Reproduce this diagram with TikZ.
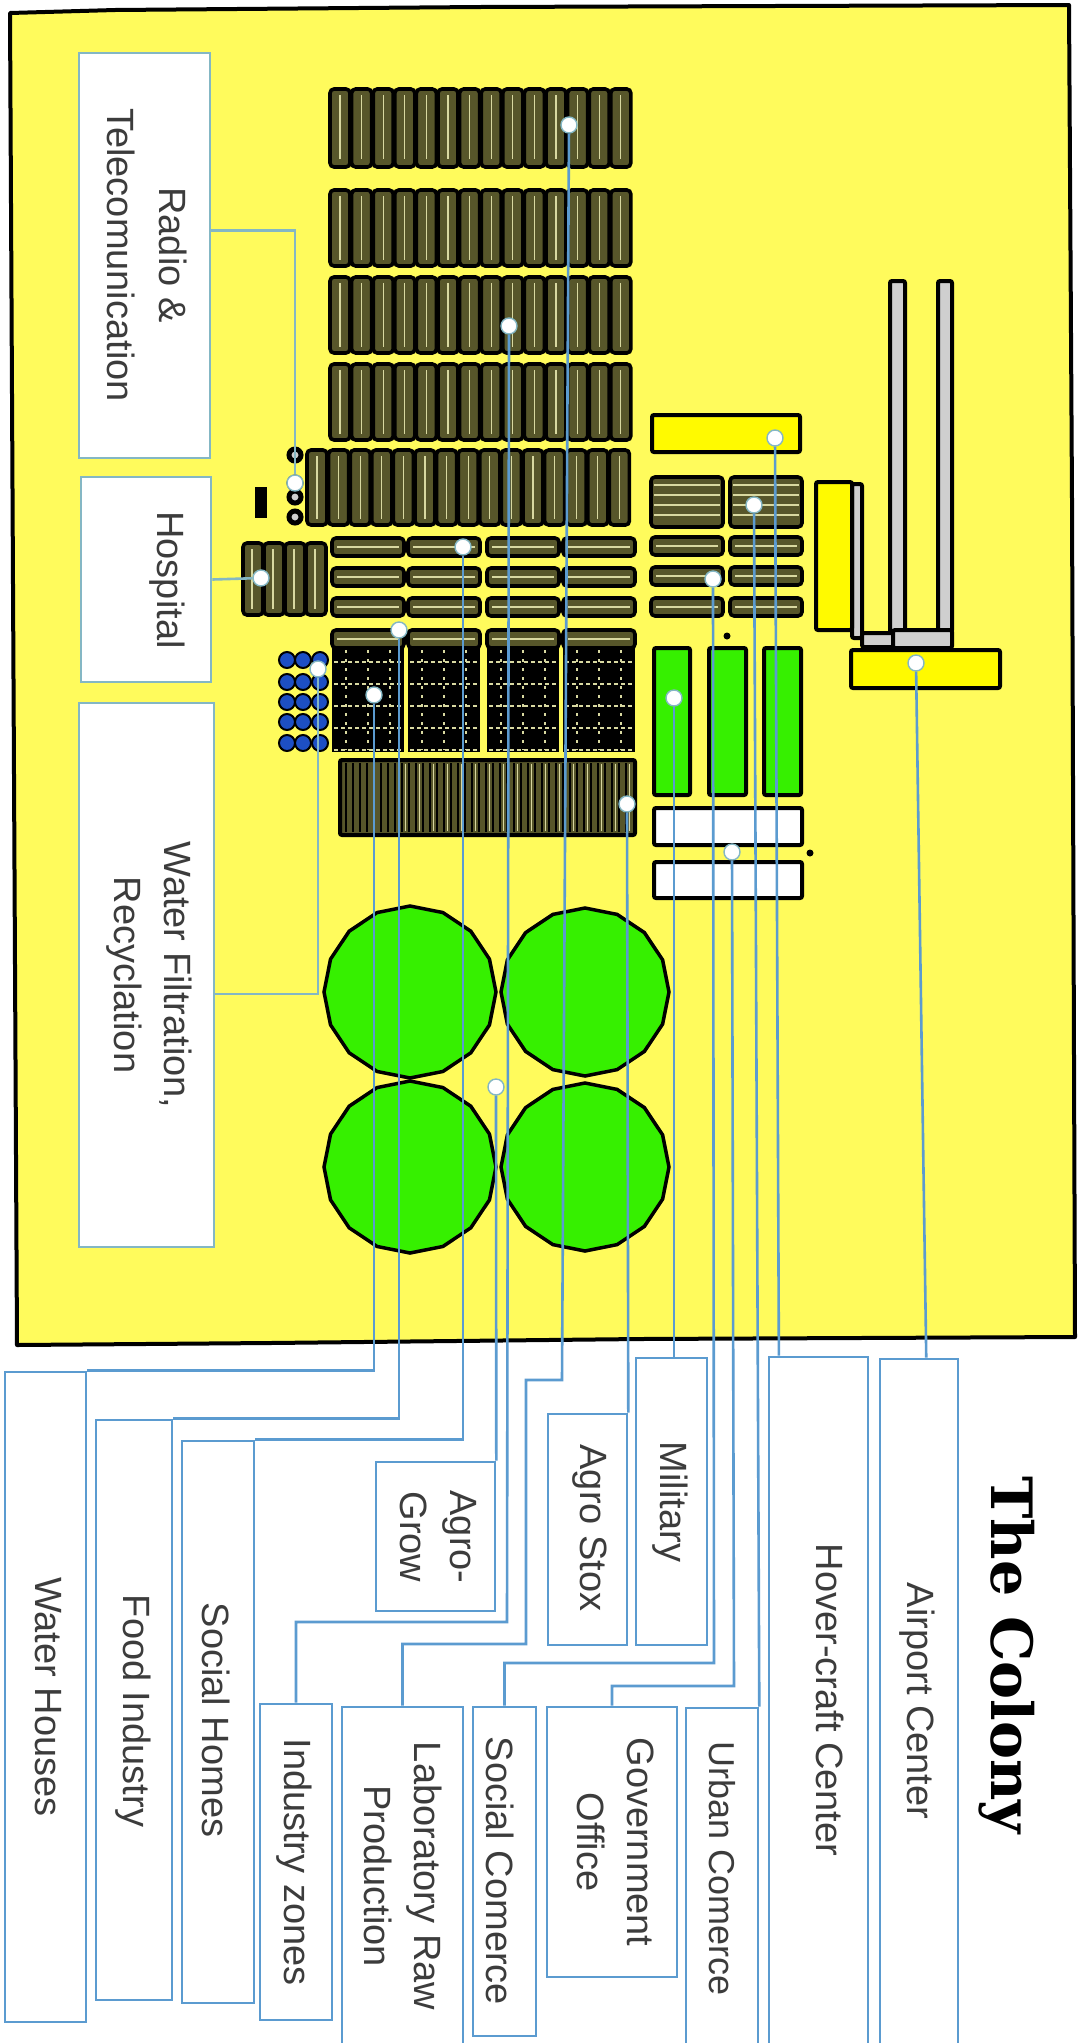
\documentclass[tikz,border=0pt]{standalone}
\usepackage{fontspec}
\setsansfont{Liberation Sans}
\newfontfamily\titlefont{DejaVu Serif}
\usetikzlibrary{shapes.geometric, calc}
\definecolor{ground}{HTML}{FFFB5C}
\definecolor{olivefill}{HTML}{57562A}
\definecolor{pale}{HTML}{D8D8A0}
\definecolor{lawn}{HTML}{36F000}
\definecolor{sun}{HTML}{FFFA00}
\definecolor{concrete}{HTML}{CFCFCF}
\definecolor{pool}{HTML}{1D4FC4}
\definecolor{wire}{HTML}{5B9BD0}
\definecolor{wirepale}{HTML}{84B7C4}
\definecolor{lettering}{HTML}{3C3C3C}
\tikzset{
  font=\sffamily,
  plot/.style={draw=black, line width=4pt, fill=ground, line join=round},
  %
  strip/.style={draw=black, line width=3.6pt, fill=olivefill, rounded corners=4pt},
  stripline/.style={draw=pale, line width=1.1pt},
  block/.style={draw=black, line width=4pt, rounded corners=2pt},
  tank/.style={draw=black, line width=3.5pt, fill=lawn, regular polygon,
    regular polygon sides=16, shape border rotate=11.25, minimum size=172pt,
    inner sep=0pt},
  %
  box/.style={draw=wire, line width=2.6pt, fill=white, inner sep=0pt},
  boxp/.style={box, draw=wirepale},
  link/.style={draw=wire, line width=2.6pt},
  linkp/.style={draw=wirepale, line width=2.6pt},
  dot/.style={circle, draw=wirepale, line width=1.4pt, fill=white, inner sep=0pt,
    minimum size=16pt},
  txt/.style={rotate=-90, text=lettering, align=center, inner sep=0pt,
    font=\sffamily\fontsize{38}{52}\selectfont},
}
\begin{document}
\begin{tikzpicture}[x=1pt, y=-1pt]
\useasboundingbox (0,0) rectangle (1078,2043);
\fill[white] (0,0) rectangle (1078,2043);

% ------------------------------------------------------------------ ground
\draw[plot] (10,13) -- (115,10) -- (480,7) -- (1069,5) -- (1072,500)
  -- (1075,1337) -- (640,1339) -- (270,1343) -- (17,1345) -- cycle;

% ---------------------------------------------------------- housing strips
\foreach \y in {89,190,277,364} {
  \foreach \i in {0,...,13} {
    \draw[strip] ({330+\i*21.6},\y) rectangle ++(20,{\y==89 ? 78 : 76});
    \draw[stripline] ({340+\i*21.6},\y+6) -- ++(0,64);
  }
}
\foreach \i in {0,...,14} {
  \draw[strip] ({307+\i*21.6},450) rectangle ++(20,75);
  \draw[stripline] ({317+\i*21.6},456) -- ++(0,63);
}
\foreach \y in {455,483,497,517} { \draw[draw=black, line width=5pt, fill=concrete] (295,\y) circle (6); }
\fill[black] (255,487) rectangle (267,518);

% ---------------------------------------------------------------- hospital
\foreach \x in {243,264,285,306} {
  \draw[strip] (\x,543) rectangle ++(20,72);
  \draw[stripline] (\x+9,549) -- ++(0,60);
}

% ------------------------------------------------------------- social rows
\foreach \x in {332,408,487,563} {
  \foreach \y in {538,568,598,630} {
    \draw[strip] (\x,\y) rectangle ++(72,18);
    \draw[stripline] (\x+5,\y+9) -- ++(62,0);
  }
  \fill[black] (\x,648) rectangle ++(72,104);
  \foreach \v in {662,684,...,750} { \draw[stripline, dash pattern=on 4pt off 3pt] (\x+2,\v) -- ++(68,0); }
  \foreach \u in {14,36,58} { \draw[stripline, dash pattern=on 3pt off 6pt] (\x+\u,650) -- ++(0,100); }
}

% ------------------------------------------------------------ water stores
\foreach \x in {287,303,320} {
  \foreach \y in {660,682,702,722,743} { \draw[draw=black, line width=2pt, fill=pool] (\x,\y) circle (8); }
}

% ---------------------------------------------------------------- long row
\draw[block, fill=olivefill] (340,760) rectangle (635,835);
\foreach \i in {0,...,40} {
  \draw[draw=black, line width=2.5pt] ({346+\i*7},763) -- ++(0,69);
}
\foreach \i in {8,10,...,40} {
  \draw[stripline] ({349.5+\i*7},764) -- ++(0,67);
}

% ------------------------------------------------------------- right strips
\draw[block, fill=sun] (652,415) rectangle (800,452);
\foreach \x in {651,730} {
  \draw[strip] (\x,477) rectangle ++(72,50);
  \foreach \v in {485,495,505,515} { \draw[stripline] (\x+3,\v) -- ++(66,0); }
  \foreach \y in {537,567,598} {
    \draw[strip] (\x,\y) rectangle ++(72,18);
    \draw[stripline] (\x+5,\y+9) -- ++(62,0);
  }
}
\fill[black] (727,636) circle (3.5);

% ------------------------------------------------------------------ fields
\draw[block, fill=lawn] (654,648) rectangle (690,795);
\draw[block, fill=lawn] (709,648) rectangle (746,795);
\draw[block, fill=lawn] (764,648) rectangle (801,795);
\draw[block, fill=white] (654,808) rectangle (802,845);
\draw[block, fill=white] (654,862) rectangle (802,898);
\fill[black] (810,853) circle (3.5);

% ----------------------------------------------------------------- airport
\draw[block, fill=concrete] (890,281) rectangle (905,632);
\draw[block, fill=concrete] (938,281) rectangle (952,632);
\draw[block, fill=concrete] (852,484) rectangle (862,638);
\draw[block, fill=concrete] (862,633) rectangle (894,647);
\draw[block, fill=concrete] (893,630) rectangle (952,648);
\draw[block, fill=sun] (816,482) rectangle (852,630);
\draw[block, fill=sun] (851,650) rectangle (1000,688);

% ------------------------------------------------------------------- tanks
\node[tank] (t1) at (410,992) {};
\node[tank, minimum size=168pt] (t2) at (585,992) {};
\node[tank] (t3) at (410,1167) {};
\node[tank, minimum size=168pt] (t4) at (585,1167) {};

% ------------------------------------------------------------------- boxes
\node[boxp, minimum width=131pt, minimum height=405pt] (radio) at (144.5,255.5) {};
\node[boxp, minimum width=130pt, minimum height=205pt] (hosp) at (146,579.5) {};
\node[boxp, minimum width=135pt, minimum height=544pt] (filter) at (146.5,975) {};

\node[box, minimum width=81pt, minimum height=650pt] (houses) at (45.5,1697) {};
\node[box, minimum width=76pt, minimum height=580pt] (food) at (134,1710) {};
\node[box, minimum width=72pt, minimum height=562pt] (homes) at (218,1722) {};
\node[box, minimum width=119pt, minimum height=149pt] (grow) at (435.5,1536.5) {};
\node[box, minimum width=79pt, minimum height=231pt] (stox) at (587.5,1529.5) {};
\node[box, minimum width=71pt, minimum height=287pt] (mil) at (671.5,1501.5) {};
\node[box, minimum width=72pt, minimum height=316pt] (zones) at (296,1862) {};
\node[box, minimum width=121pt, minimum height=340pt] (lab) at (402.5,1877) {};
\node[box, minimum width=63pt, minimum height=329pt] (comm) at (504.5,1871.5) {};
\node[box, minimum width=130pt, minimum height=270pt] (gov) at (612,1842) {};
\node[box, minimum width=72pt, minimum height=340pt] (urban) at (722,1878) {};
\node[box, minimum width=99pt, minimum height=690pt] (hover) at (818.5,1702) {};
\node[box, minimum width=78pt, minimum height=688pt] (air) at (919,1703) {};

% -------------------------------------------------------------------- text
\node[txt] (tradio) at (147,255) {Radio \&\\Telecomunication};
\node[txt] (thosp) at (167,580) {Hospital};
\node[txt, font=\sffamily\fontsize{38}{50}\selectfont] (tfilter) at (149,975) {Water Filtration,\\Recyclation};
\node[txt] (thouses) at (48,1697) {Water Houses};
\node[txt] (tfood) at (133,1711) {Food Industry};
\node[txt] (thomes) at (216,1720) {Social Homes};
\node[txt, font=\sffamily\fontsize{38}{50}\selectfont] (tgrow) at (438,1537) {Agro-\\Grow};
\node[txt] (tstox) at (590,1528) {Agro Stox};
\node[txt] (tmil) at (670,1502) {Military};
\node[txt] (tzones) at (294,1862) {Industry zones};
\node[txt, font=\sffamily\fontsize{38}{50}\selectfont] (tlab) at (403,1876) {Laboratory Raw\\Production};
\node[txt] (tcomm) at (500,1871) {Social Comerce};
\node[txt, font=\sffamily\fontsize{38}{50}\selectfont] (tgov) at (616,1842) {Government\\Office};
\node[txt, font=\sffamily\fontsize{36}{50}\selectfont] (turban) at (722,1869) {Urban Comerce};
\node[txt] (thover) at (830,1700) {Hover-craft Center};
\node[txt] (tair) at (917,1701) {Airport Center};
\node[txt, text=black, font=\titlefont\bfseries\fontsize{57}{70}\selectfont] (title) at (1007,1655) {The Colony};

% -------------------------------------------------------------------- dots
\node[dot] (dradio) at (295,483) {};
\node[dot] (dhosp) at (261,578) {};
\node[dot] (dfilter) at (318,669) {};
\node[dot] (dhouses) at (374,695) {};
\node[dot] (dfood) at (399,630) {};
\node[dot] (dhomes) at (463,547) {};
\node[dot] (dgrow) at (496,1087) {};
\node[dot] (dzones) at (509,326) {};
\node[dot] (dlab) at (569,125) {};
\node[dot] (dstox) at (627,804) {};
\node[dot] (dmil) at (674,698) {};
\node[dot] (dcomm) at (713,579) {};
\node[dot] (dgov) at (732,852) {};
\node[dot] (durban) at (754,505) {};
\node[dot] (dhover) at (775,438) {};
\node[dot] (dair) at (916,663) {};

% --------------------------------------------------------------- connectors
\coordinate (bzones) at (507,1622);
\coordinate (blab) at (526,1644);
\coordinate (clab) at (562,1380);
\coordinate (bcomm) at (714,1663);
\coordinate (bgov) at (734,1686);

\draw[linkp] ([yshift=25pt]radio.east) -| (dradio);
\draw[linkp] (hosp.east) -- (dhosp);
\draw[linkp] ([yshift=-19pt]filter.east) -| (dfilter);

\draw[link] (houses.north east) -| (dhouses);
\draw[link] (food.north east) -| (dfood);
\draw[link] (homes.north east) -| (dhomes);
\draw[link] (grow.north east) -- (dgrow);
\draw[link] (stox.north east) -- (dstox);
\draw[link] (mil.north -| dmil) -- (dmil);
\draw[link] (zones.north) |- (bzones) -- (dzones);
\draw[link] (lab.north) |- (blab) |- (clab) -- (dlab);
\draw[link] (comm.north) |- (bcomm) -- (dcomm);
\draw[link] (gov.north) |- (bgov) -- (dgov);
\draw[link] (urban.north east) -- (durban);
\draw[link] ($(hover.north west)!0.11!(hover.north east)$) -- (dhover);
\draw[link] ($(air.north west)!0.59!(air.north east)$) -- (dair);

\end{tikzpicture}
\end{document}
